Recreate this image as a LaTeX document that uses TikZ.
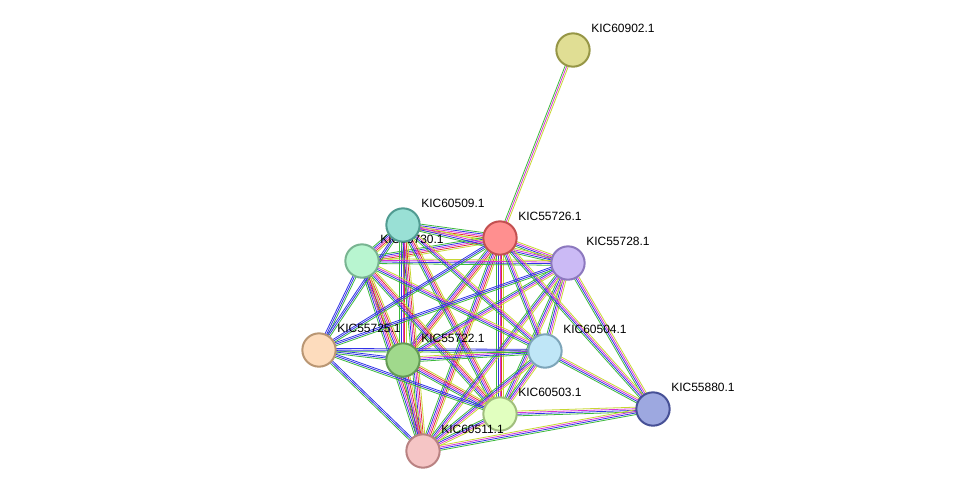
\documentclass[tikz,border=0pt]{standalone}
\usepackage{fontspec}
\setmainfont{Liberation Sans}
\usetikzlibrary{calc}
\definecolor{sgreen}{RGB}{60,185,60}
\definecolor{sblue}{RGB}{50,50,230}
\definecolor{smag}{RGB}{215,50,215}
\definecolor{syel}{RGB}{200,215,50}
\definecolor{sred}{RGB}{225,50,50}
\tikzset{
  prot/.style={circle, draw, line width=1.5pt, minimum size=25pt, inner sep=0pt},
  plabel/.style={anchor=west, font=\fontsize{9}{10}\selectfont, inner sep=0pt},
}
% one connector made of parallel coloured lines
\newcommand\conn[4]{%
  \foreach \c [count=\i] in {#4} {
    \pgfmathsetmacro\o{(\i-(#3+1)/2)*1.6*0.75}
    \draw[\c, line width=0.6pt] ($(#1)!\o pt!90:(#2)$) -- ($(#2)!\o pt!-90:(#1)$);
  }}
\begin{document}
\begin{tikzpicture}[x=0.75pt, y=-0.75pt]
  \useasboundingbox (0,0) rectangle (976,497);

  % positions
  \coordinate (n60902) at (573,50);
  \coordinate (n55726) at (500,238);
  \coordinate (n60509) at (403,225);
  \coordinate (n55730) at (362,261);
  \coordinate (n55728) at (568,263);
  \coordinate (n55725) at (319,350);
  \coordinate (n55722) at (403,360);
  \coordinate (n60504) at (545,351);
  \coordinate (n60503) at (500,414);
  \coordinate (n55880) at (653,409);
  \coordinate (n60511) at (423,451);

  % connectors
  \conn{n60902}{n55726}{3}{sgreen,smag,syel}
  \foreach \a/\b in {n55726/n60509, n55726/n55730, n55726/n55722, n55726/n60511,
      n60509/n55730, n60509/n55722, n60509/n60511, n55730/n55722, n55730/n60511,
      n55722/n60511, n55726/n60503, n60509/n60503, n55730/n60503, n55722/n60503}
    {\conn{\a}{\b}{5}{sgreen,sblue,smag,sred,syel}}
  \foreach \a/\b in {n55726/n55728, n60509/n55728, n55730/n55728, n55728/n60504,
      n55728/n55880, n60504/n55880, n60503/n55880, n60511/n55880, n55728/n60503,
      n55728/n60511, n55728/n55722, n60509/n60504, n55730/n60504, n55722/n60504,
      n55726/n55880, n60503/n60511, n55726/n60504, n60504/n60503, n60504/n60511}
    {\conn{\a}{\b}{4}{sgreen,sblue,smag,syel}}
  \foreach \a/\b in {n55725/n55730, n55725/n55722, n55725/n60504, n55725/n60503,
      n55725/n60511, n55725/n55728, n55725/n60509, n55725/n55726}
    {\conn{\a}{\b}{3}{sgreen,sblue,sblue}}

  % labels under the proteins
  \foreach \n/\t in {n60902/KIC60902.1, n55726/KIC55726.1, n60509/KIC60509.1,
      n55730/KIC55730.1, n55728/KIC55728.1, n55725/KIC55725.1, n55722/KIC55722.1,
      n60504/KIC60504.1, n60503/KIC60503.1, n55880/KIC55880.1}
    {\node[plabel] (l\n) at ($(\n)+(18,-22)$) {\t};}

  % proteins
  \foreach \n/\f/\d in {n60902/{rgb,255:red,224;green,222;blue,148}/{rgb,255:red,150;green,150;blue,70},
      n55726/{rgb,255:red,255;green,143;blue,143}/{rgb,255:red,195;green,80;blue,80},
      n60509/{rgb,255:red,153;green,224;blue,213}/{rgb,255:red,80;green,155;blue,145},
      n55730/{rgb,255:red,184;green,245;blue,208}/{rgb,255:red,120;green,180;blue,145},
      n55728/{rgb,255:red,203;green,186;blue,245}/{rgb,255:red,140;green,120;blue,190},
      n55725/{rgb,255:red,253;green,220;blue,189}/{rgb,255:red,185;green,150;blue,115},
      n55722/{rgb,255:red,160;green,217;blue,140}/{rgb,255:red,100;green,155;blue,85},
      n60504/{rgb,255:red,191;green,230;blue,247}/{rgb,255:red,125;green,165;blue,185},
      n60503/{rgb,255:red,225;green,255;blue,191}/{rgb,255:red,160;green,190;blue,125},
      n55880/{rgb,255:red,157;green,168;blue,224}/{rgb,255:red,70;green,80;blue,150},
      n60511/{rgb,255:red,245;green,197;blue,197}/{rgb,255:red,185;green,130;blue,130}}
    {\node[prot, fill=\f, draw=\d] (p\n) at (\n) {};}

  % label on top
  \node[plabel] (ln60511) at ($(n60511)+(18,-22)$) {KIC60511.1};
\end{tikzpicture}
\end{document}
